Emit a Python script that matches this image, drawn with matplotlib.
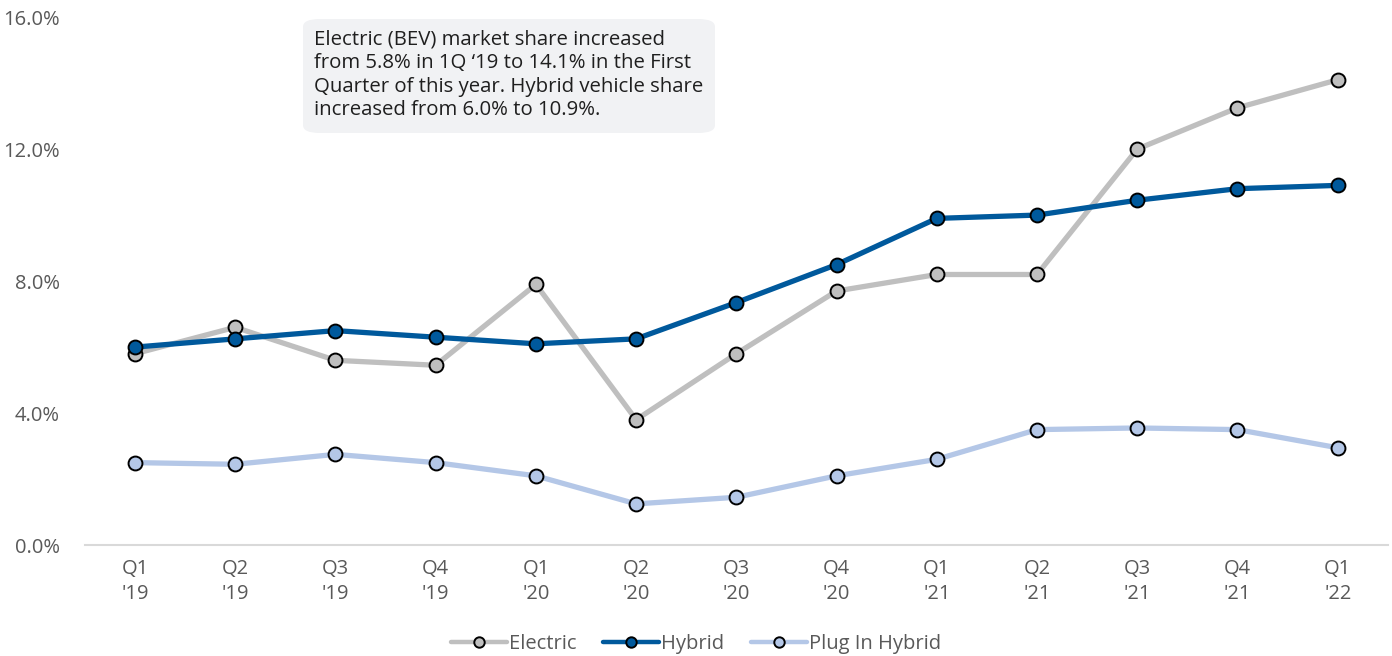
import matplotlib.pyplot as plt
from matplotlib.patches import FancyBboxPatch
from matplotlib.ticker import FuncFormatter

plt.rcParams['font.family'] = ['Open Sans', 'DejaVu Sans']

# Quarterly market share (%)
quarters = ["Q1\n'19", "Q2\n'19", "Q3\n'19", "Q4\n'19",
            "Q1\n'20", "Q2\n'20", "Q3\n'20", "Q4\n'20",
            "Q1\n'21", "Q2\n'21", "Q3\n'21", "Q4\n'21", "Q1\n'22"]
electric = [5.8, 6.6, 5.6, 5.45, 7.9, 3.8, 5.8, 7.7, 8.2, 8.2, 12.0, 13.25, 14.1]
hybrid = [6.0, 6.25, 6.5, 6.3, 6.1, 6.25, 7.35, 8.5, 9.9, 10.0, 10.45, 10.8, 10.9]
plug_in = [2.5, 2.45, 2.75, 2.5, 2.1, 1.25, 1.45, 2.1, 2.6, 3.5, 3.55, 3.5, 2.95]

note = ("Electric (BEV) market share increased\n"
        "from 5.8% in 1Q \u201819 to 14.1% in the First\n"
        "Quarter of this year. Hybrid vehicle share\n"
        "increased from 6.0% to 10.9%.")

series = [
    ("Electric", electric, "#bfbfbf"),
    ("Hybrid", hybrid, "#00599c"),
    ("Plug In Hybrid", plug_in, "#b4c7e7"),
]

fig = plt.figure(figsize=(13.92, 6.56), dpi=100)
ax = fig.add_axes([0.061, 0.169, 0.936, 0.805])

x = list(range(len(quarters)))
for name, vals, col in series:
    ax.plot(x, vals, color=col, lw=3.8, marker='o', markersize=10,
            markerfacecolor=col, markeredgecolor='black', markeredgewidth=1.4,
            label=name, solid_capstyle='round', zorder=3)

ax.set_xlim(-0.5, len(quarters) - 0.5)
ax.set_ylim(0, 16)
ax.set_yticks([0, 4, 8, 12, 16])
ax.yaxis.set_major_formatter(FuncFormatter(lambda v, p: f"{v:.1f}%"))
ax.set_xticks(x)
ax.set_xticklabels(quarters, linespacing=1.3)

for s in ['top', 'right', 'left']:
    ax.spines[s].set_visible(False)
ax.spines['bottom'].set_color('#d9d9d9')
ax.spines['bottom'].set_linewidth(1.5)
ax.tick_params(axis='both', length=0, labelsize=14.5, colors='#595959')
ax.tick_params(axis='y', pad=18)
ax.tick_params(axis='x', pad=10)

# annotation box
box = FancyBboxPatch((303 / 1392, 1 - 133 / 656), (715 - 303) / 1392, (133 - 19) / 656,
                     boxstyle="round,pad=0,rounding_size=0.012",
                     transform=fig.transFigure, facecolor='#f1f2f4',
                     edgecolor='none', zorder=1)
fig.patches.append(box)
fig.text(314 / 1392, 1 - 30 / 656, note, fontsize=14.7, color='#1f1f1f',
         va='top', ha='left', linespacing=1.22)

leg = fig.legend(loc='lower center', bbox_to_anchor=(0.5, -0.025), ncol=3, frameon=False,
                 fontsize=14.5, labelcolor='#595959', handlelength=2.8, handletextpad=0.1,
                 columnspacing=1.3, markerscale=0.75)
for h in leg.legend_handles:
    h.set_linewidth(3.2)

fig.savefig('out.png', dpi=100)
